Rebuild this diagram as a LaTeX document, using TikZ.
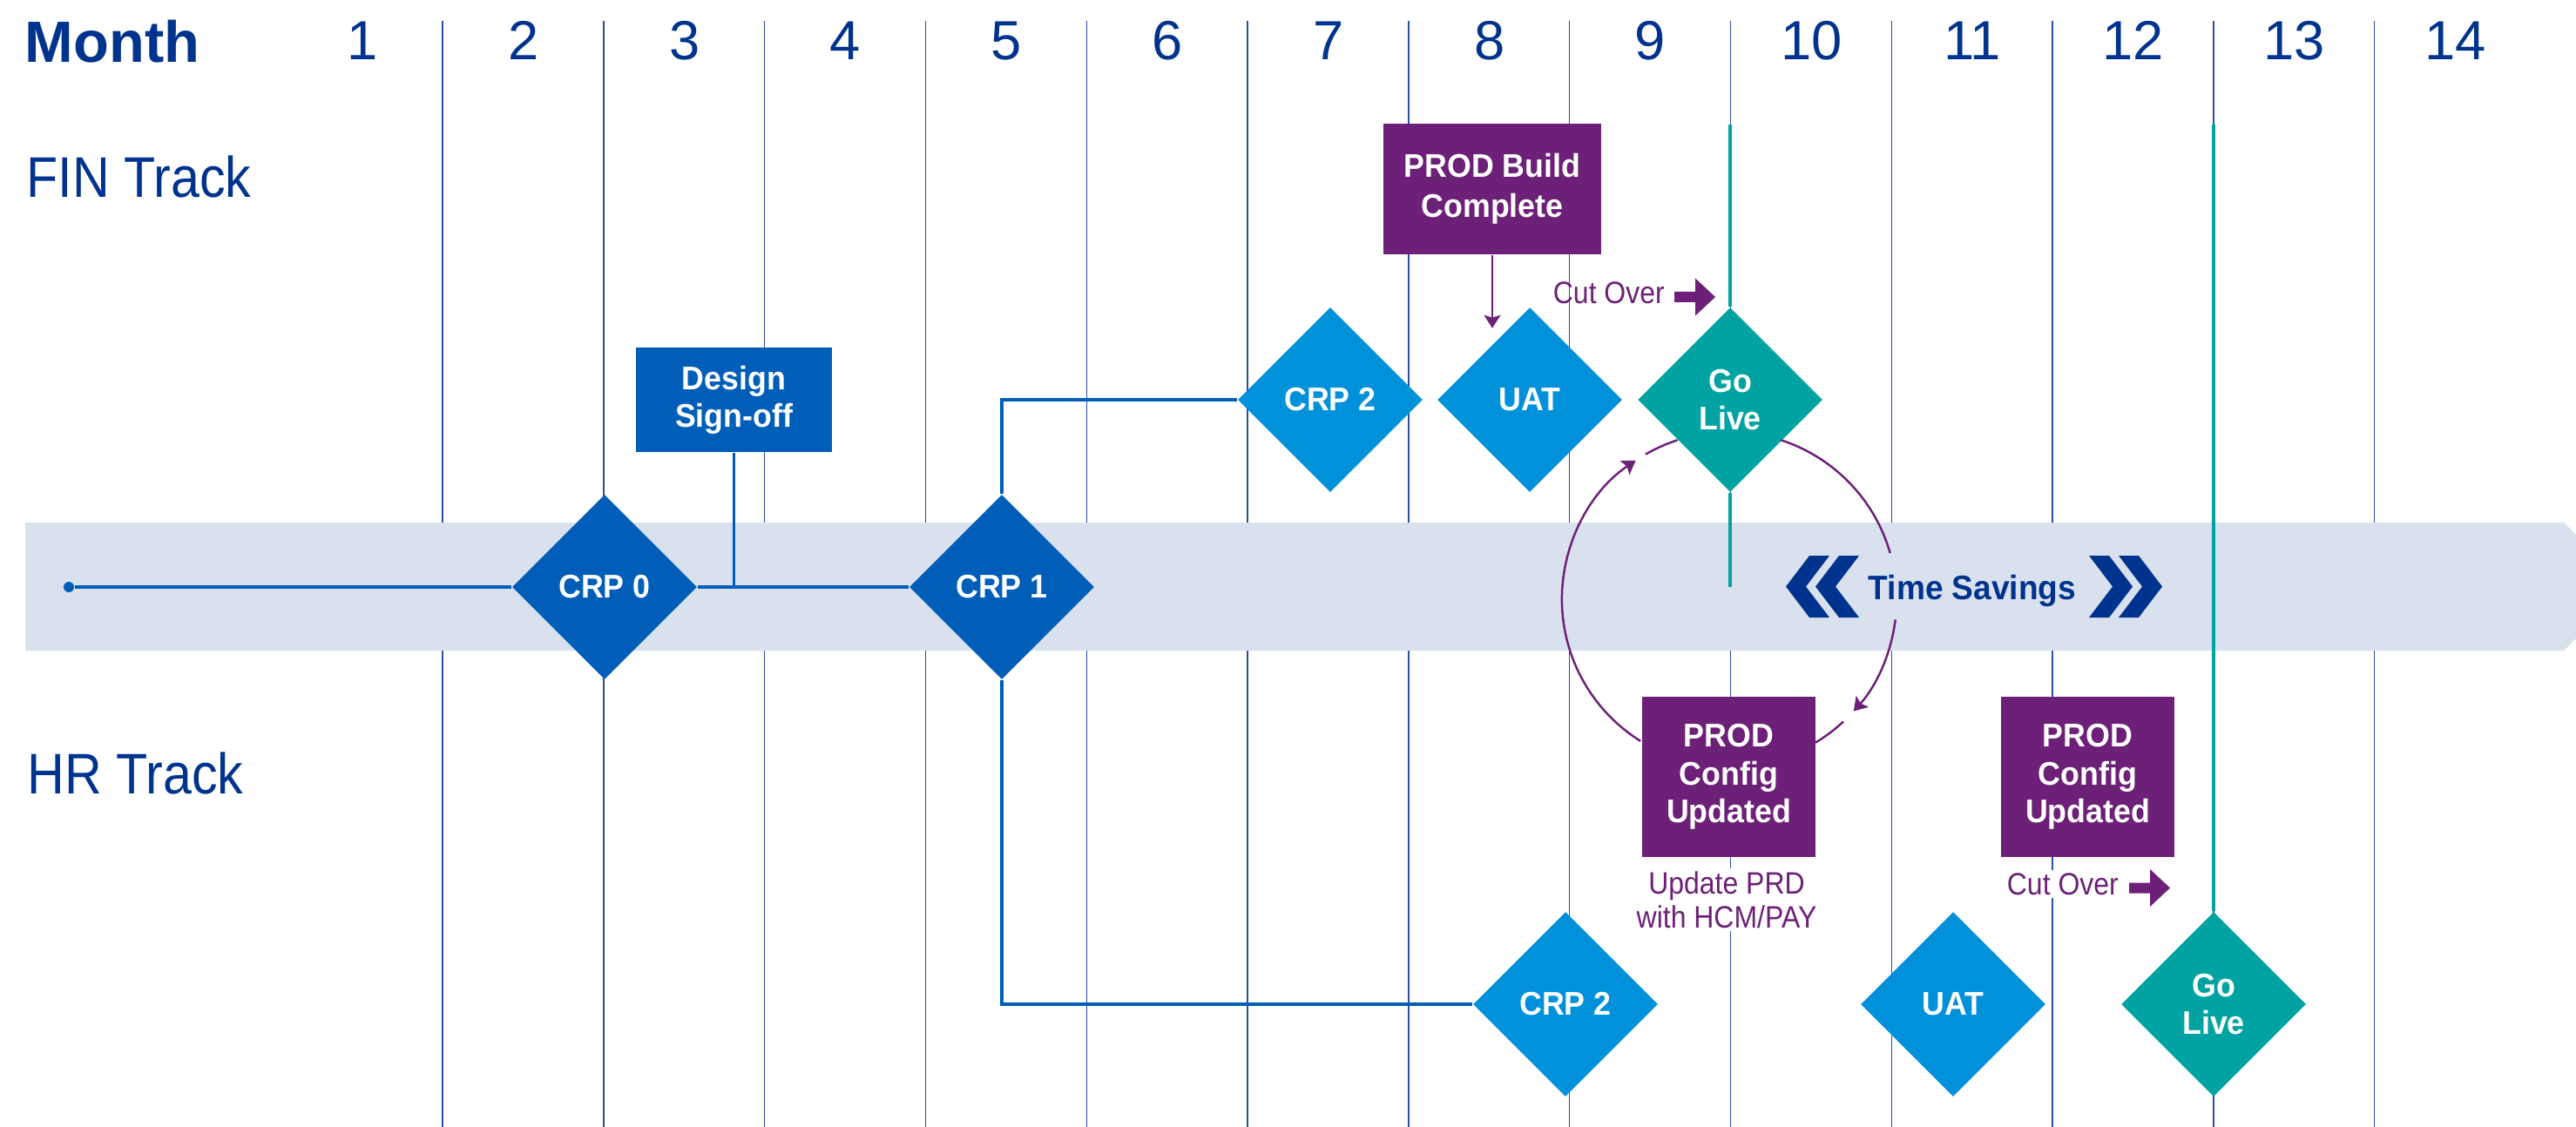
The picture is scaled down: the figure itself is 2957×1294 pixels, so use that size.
\documentclass[tikz,border=0pt]{standalone}
\usepackage{fontspec}
\setmainfont{Liberation Sans}
\newfontfamily\narrowfont[FakeStretch=0.9]{Liberation Sans}
\newfontfamily\condfont[FakeStretch=0.95]{Liberation Sans}
\usepackage{xcolor}
\usepackage{tikz}
\usetikzlibrary{arrows.meta,shapes.geometric,positioning}
\definecolor{navy}{HTML}{00338D}
\definecolor{rule}{HTML}{2A4DA6}
\definecolor{band}{HTML}{DAE1EE}
\definecolor{crp}{HTML}{005EB8}
\definecolor{sky}{HTML}{0091DA}
\definecolor{golive}{HTML}{00A3A1}
\definecolor{prod}{HTML}{6D2077}
\tikzset{
  rule/.style={draw=rule, line width=0.4pt},
  link/.style={draw=crp, line width=1pt},
  live/.style={draw=golive, line width=0.9pt},
  rework/.style={draw=prod, line width=0.7pt},
  tip/.style={-{Stealth[length=0.15cm, width=0.19cm, inset=0.03cm]}},
  mile/.style={diamond, aspect=1, inner sep=0pt, minimum width=2.12cm, minimum height=2.12cm,
    text=white, align=center, font=\condfont\bfseries\fontsize{10.7}{12.3}\selectfont},
  box/.style={rectangle, inner sep=0pt, text=white, align=center,
    font=\condfont\bfseries\fontsize{10.7}{12.3}\selectfont},
  note/.style={text=prod, align=center, inner sep=1pt, font=\narrowfont\fontsize{10.1}{11}\selectfont},
  track/.style={text=navy, anchor=base west, inner sep=0pt, font=\narrowfont\fontsize{18.7}{20}\selectfont},
  month/.style={text=navy, anchor=base, inner sep=0pt, font=\fontsize{18}{20}\selectfont},
  dot/.style={circle, fill=crp, inner sep=0pt, minimum size=0.12cm},
  cutarrow/.pic={\fill[prod] (0,6) -- (24,6) -- (24,21.5) -- (47,0) -- (24,-21.5) -- (24,-6) -- (0,-6) -- cycle;},
  chevron/.pic={\fill[navy, xscale=#1] (0,0) -- (27,35.5) -- (50,35.5) -- (23,0) -- (50,-35.5) -- (27,-35.5) -- cycle;},
}

\begin{document}
\begin{tikzpicture}[x=0.01cm, y=0.01cm]
\useasboundingbox (0,0) rectangle (2957,-1294);

% month columns
\foreach \i in {0,...,12}
  \draw[rule] ({508+184.8*\i},-24) -- ({508+184.8*\i},-1294);
\node[anchor=base west, text=navy, inner sep=0pt, font=\bfseries\fontsize{19}{20}\selectfont] (month) at (28,-72) {Month};
\foreach \m in {1,...,14}
  \node[month] (m\m) at ({416+184.8*(\m-1)},-69) {\m};

\node[track] (fin) at (30,-227) {FIN Track};
\node[track] (hr) at (31,-911) {HR Track};

% shared timeline band
\fill[band] (29,-600) -- (2943,-600) -- (2957,-614) -- (2957,-733) -- (2943,-747) -- (29,-747) -- cycle;

\node[dot] (start) at (79,-674) {};
\node[mile, fill=crp] (crp0) at (694,-674) {CRP 0};
\node[mile, fill=crp] (crp1) at (1150,-674) {CRP 1};
\node[box, fill=crp, minimum width=2.25cm, minimum height=1.2cm] (design) at (842.5,-459) {Design\\Sign-off};

\node[mile, fill=sky] (fincrp2) at (1527,-459) {CRP 2};
\node[mile, fill=sky] (finuat) at (1756,-459) {UAT};
\node[mile, fill=golive] (fingo) at (1986,-459) {Go\\Live};
\node[box, fill=prod, minimum width=2.5cm, minimum height=1.5cm,
  font=\condfont\bfseries\fontsize{10.7}{13.2}\selectfont] (build) at (1713,-217) {PROD Build\\Complete};

\node[mile, fill=sky] (hrcrp2) at (1797,-1153) {CRP 2};
\node[mile, fill=sky] (hruat) at (2242,-1153) {UAT};
\node[mile, fill=golive] (hrgo) at (2541,-1153) {Go\\Live};
\node[box, fill=prod, minimum width=1.99cm, minimum height=1.84cm] (cfga) at (1984.5,-892) {PROD\\Config\\Updated};
\node[box, fill=prod, minimum width=1.99cm, minimum height=1.84cm] (cfgb) at (2396.5,-892) {PROD\\Config\\Updated};

\node[note, anchor=base east] (cutfin) at (1915,-348) {Cut Over};
\pic at ([xshift=0.07cm, yshift=0.07cm]cutfin.base east) {cutarrow};
\node[note, fill=white, anchor=base east] (cuthr) at (2436,-1027) {Cut Over};
\pic at ([xshift=0.08cm, yshift=0.075cm]cuthr.base east) {cutarrow};
\node[note, fill=white] (update) at (1982,-1033) {Update PRD\\with HCM/PAY};

\node[text=navy, inner sep=0pt, font=\condfont\bfseries\fontsize{11.1}{12}\selectfont] (savings) at (2264,-678) {Time Savings};
\pic at (2050,-673.5) {chevron=1};
\pic at (2084,-673.5) {chevron=1};
\pic at (2482,-673.5) {chevron=-1};
\pic at (2448,-673.5) {chevron=-1};

\draw[link] (start) -- (crp0);
\draw[link] (crp0) -- (crp1);
\draw[link] (design.south) -- (design.south |- crp0.east);
\draw[link] (crp1.north) |- (fincrp2.west);
\draw[link] (crp1.south) |- (hrcrp2.west);

\coordinate (livetop) at (1986,-143);
\draw[live] (livetop) -- (fingo.north);
\draw[live] (fingo.south) -- (fingo.south |- crp1.center);
\draw[live] (hrgo.north |- livetop) -- (hrgo.north);

\draw[rework, tip] (build.south) -- ([yshift=-0.84cm]build.south);

\coordinate (rw) at (1985,-688);
\draw[rework, tip] ([shift={(238:1.92cm)}]rw) arc[start angle=238, end angle=124, radius=1.92cm];
\draw[rework] ([shift={(120:1.92cm)}]rw) arc[start angle=120, end angle=108, radius=1.92cm];
\draw[rework] ([shift={(72:1.92cm)}]rw) arc[start angle=72, end angle=16, radius=1.92cm];
\draw[rework, tip] ([shift={(-7:1.92cm)}]rw) arc[start angle=-7, end angle=-42, radius=1.92cm];
\draw[rework] ([shift={(-47:1.92cm)}]rw) arc[start angle=-47, end angle=-59, radius=1.92cm];
\end{tikzpicture}
\end{document}
